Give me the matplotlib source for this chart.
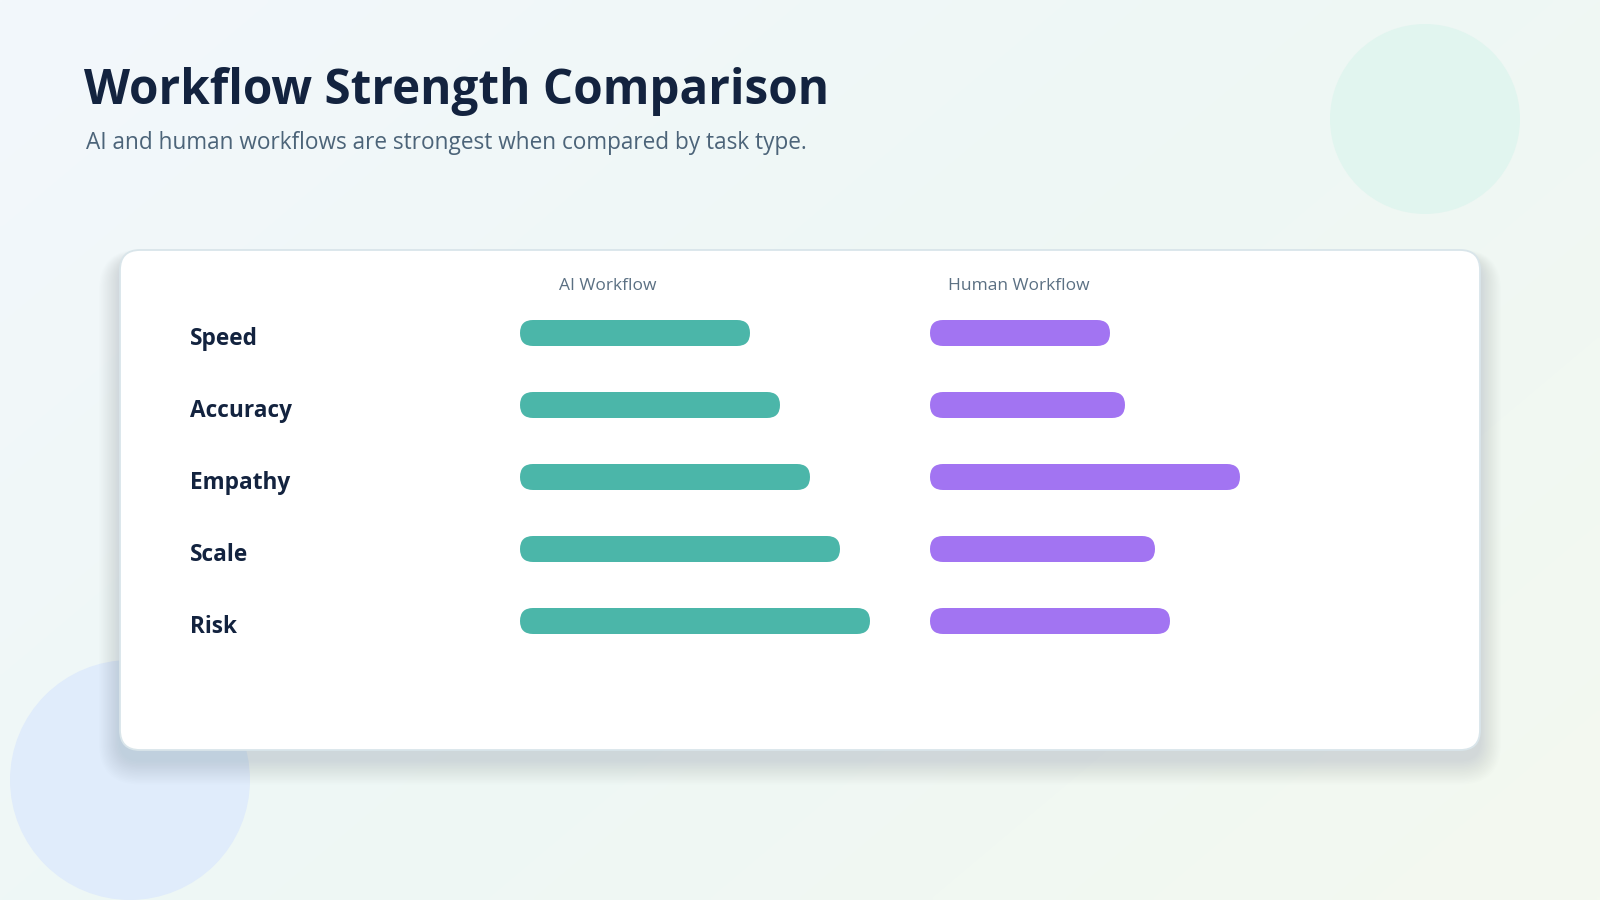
import numpy as np
import matplotlib
matplotlib.use("Agg")
import matplotlib.pyplot as plt
from matplotlib.patches import FancyBboxPatch, Circle
from matplotlib import transforms
from matplotlib.colors import to_rgb

# ---------------- data ----------------
categories = ["Speed", "Accuracy", "Empathy", "Scale", "Risk"]
ai_scores = [46, 52, 58, 64, 70]
human_scores = [36, 39, 62, 45, 48]
series_labels = ["AI Workflow", "Human Workflow"]
title = "Workflow Strength Comparison"
subtitle = "AI and human workflows are strongest when compared by task type."

# ---------------- style ----------------
W, H = 1600, 900
FONT = "Open Sans"
NAVY = "#13233f"
SUB = "#4c6479"
HEAD = "#5b7083"
TEAL = "#4bb6a9"
PURPLE = "#a274f2"

fig = plt.figure(figsize=(16, 9), dpi=100)

def fx(px):
    return px / W

def fy(py):
    return 1 - py / H

# background
bg = fig.add_axes([0, 0, 1, 1], zorder=0)
bg.set_xlim(0, W)
bg.set_ylim(H, 0)
bg.axis("off")
c_tl = np.array(to_rgb("#f3f8fc"))
c_mid = np.array(to_rgb("#eef7f5"))
c_br = np.array(to_rgb("#f4f9f0"))
xx, yy = np.meshgrid(np.linspace(0, 1, 320), np.linspace(0, 1, 180))
t = (xx * 0.6 + yy * 0.4)
img = np.zeros((180, 320, 3))
for k in range(3):
    img[..., k] = np.where(t < 0.5,
                           c_tl[k] + (c_mid[k] - c_tl[k]) * (t / 0.5),
                           c_mid[k] + (c_br[k] - c_mid[k]) * ((t - 0.5) / 0.5))
bg.imshow(img, extent=(0, W, H, 0), aspect="auto", zorder=0, interpolation="bilinear")

# decorative circles
bg.add_patch(Circle((1425, 119), 95, facecolor="#e1f5ef", edgecolor="none", zorder=1))
bg.add_patch(Circle((130, 780), 120, facecolor="#e0ecfb", edgecolor="none", zorder=1))

# card shadow
cx0, cy0, cx1, cy1 = 120, 250, 1480, 750
for i in range(16):
    e = 2 + i * 2.2
    bg.add_patch(FancyBboxPatch((cx0 - e * 0.6, cy0 - e * 0.3 + 10), (cx1 - cx0) + e * 1.2,
                                (cy1 - cy0) + e * 1.0,
                                boxstyle=f"round,pad=0,rounding_size={20 + e * 0.6}",
                                facecolor="#5f7f8c", edgecolor="none", alpha=0.010, zorder=2))
# card
bg.add_patch(FancyBboxPatch((cx0, cy0), cx1 - cx0, cy1 - cy0,
                            boxstyle="round,pad=0,rounding_size=20",
                            facecolor="white", edgecolor="#d9e5ea", linewidth=1.3, zorder=3))

# titles
fig.text(fx(84), fy(104), title, fontsize=34.3, fontweight="bold", color=NAVY,
         family=FONT, va="baseline", ha="left")
fig.text(fx(86), fy(143), subtitle, fontsize=16.3, color=SUB,
         family=FONT, va="center", ha="left")

# ---------------- bars ----------------
row_px = 72
n = len(categories)
top_px = 333 - row_px / 2
ax_h = row_px * n / H
ax_bottom = fy(top_px + row_px * n)
unit_px = 5.0
span = 72
ax_w = span * unit_px / W
bar_h_px = 26
bar_h = bar_h_px / row_px
r_x = (bar_h_px / 2) / unit_px
mut_aspect = (1 / row_px) / (1 / unit_px)

def make_axes(left_px):
    ax = fig.add_axes([fx(left_px), ax_bottom, ax_w, ax_h], zorder=5)
    ax.set_xlim(0, span)
    ax.set_ylim(n - 0.5, -0.5)
    ax.patch.set_alpha(0)
    ax.axis("off")
    return ax

ax_ai = make_axes(520)
ax_hu = make_axes(930)

for ax, vals, col in [(ax_ai, ai_scores, TEAL), (ax_hu, human_scores, PURPLE)]:
    for i, v in enumerate(vals):
        ax.add_patch(FancyBboxPatch((0, i - bar_h / 2), v, bar_h,
                                    boxstyle=f"round,pad=0,rounding_size={r_x}",
                                    mutation_aspect=mut_aspect,
                                    facecolor=col, edgecolor="none"))

# row labels
tr = transforms.blended_transform_factory(fig.transFigure, ax_ai.transData)
for i, c in enumerate(categories):
    ax_ai.text(fx(190), i + 0.09, c, transform=tr, fontsize=16.3, fontweight="bold",
               color=NAVY, family=FONT, va="center", ha="left")

# column headers
fig.text(fx(608), fy(286), series_labels[0], fontsize=12.5, color=HEAD,
         family=FONT, ha="center", va="center")
fig.text(fx(1019), fy(286), series_labels[1], fontsize=12.5, color=HEAD,
         family=FONT, ha="center", va="center")

fig.savefig("out.png", dpi=100)
